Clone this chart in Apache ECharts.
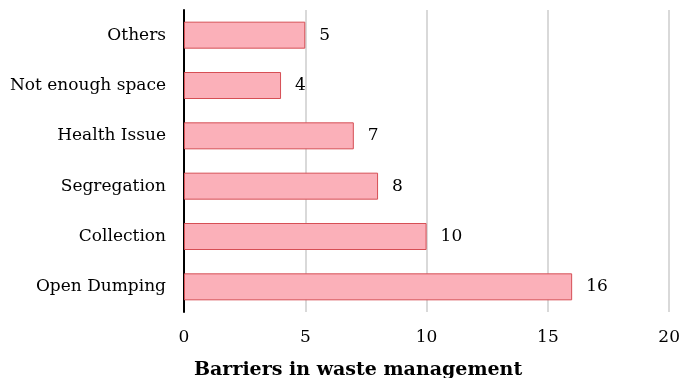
<!DOCTYPE html>
<html><head><meta charset="utf-8">
<script src="https://cdn.jsdelivr.net/npm/echarts@6/dist/echarts.min.js"></script>
<style>html,body{margin:0;padding:0;background:#fff}#c{width:683px;height:378px}</style>
</head><body><div id="c"></div>
<script>
const categories = ['Open Dumping', 'Collection', 'Segregation', 'Health Issue', 'Not enough space', 'Others'];
const values = [16, 10, 8, 7, 4, 5];
const xTicks = [0, 5, 10, 15, 20];
const font = 'DejaVu Serif';
const chart = echarts.init(document.getElementById('c'));
chart.setOption({
  animation: false,
  title: {
    text: 'Barriers in waste management',
    left: 189, top: 356,
    textStyle: { fontFamily: font, fontWeight: 'bold', fontSize: 19, color: '#000' }
  },
  grid: { left: 184, right: 11, top: 10, bottom: 66 },
  xAxis: {
    type: 'value', min: xTicks[0], max: xTicks[xTicks.length - 1], interval: 5,
    axisLine: { show: false }, axisTick: { show: false },
    splitLine: { lineStyle: { color: '#d9d9d9', width: 2 } },
    axisLabel: { fontFamily: font, fontSize: 17, color: '#000', margin: 17 }
  },
  yAxis: {
    type: 'category', data: categories,
    axisLine: { lineStyle: { color: '#000', width: 2 } },
    axisTick: { show: false },
    axisLabel: { fontFamily: font, fontSize: 17, color: '#000', margin: 18 }
  },
  series: [{
    type: 'bar', data: values, barWidth: 27,
    itemStyle: { color: '#fbb0b9', borderColor: '#d64f55', borderWidth: 1 },
    label: { show: true, position: 'right', distance: 14, fontFamily: font, fontSize: 17, color: '#000' }
  }]
});
</script></body></html>
